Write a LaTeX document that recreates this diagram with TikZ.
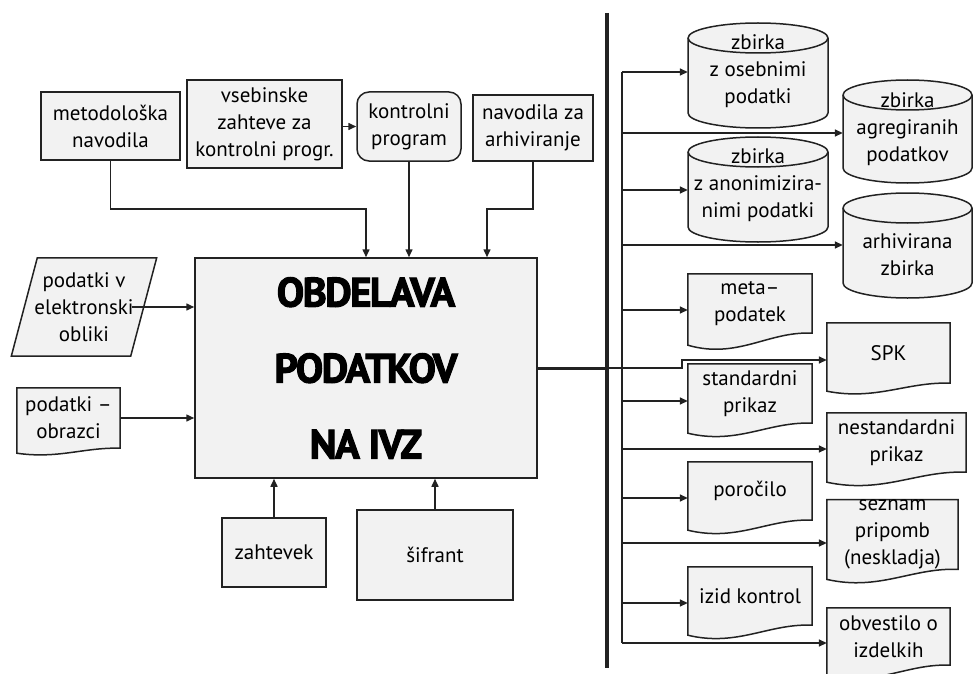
\documentclass[tikz,border=0pt]{standalone}
\usepackage{fontspec}
\setmainfont{PT Sans}
\newfontfamily\heavyfont[LetterSpace=-4,FakeBold=2.5]{PT Sans}
\usetikzlibrary{arrows.meta,calc,backgrounds}
\definecolor{boxfill}{HTML}{F2F2F2}
\definecolor{ink}{HTML}{222222}
\tikzset{
  txt/.style={font=\fontsize{21}{27}\selectfont, align=center, text=black, inner sep=0pt},
  ghost/.style={txt, rectangle, draw=none},
  box/.style={txt, rectangle, draw=ink, fill=boxfill, line width=1.5pt},
  outl/.style={draw=ink, fill=boxfill, line width=1.5pt},
  conn/.style={draw=ink, line width=1.5pt},
  arr/.style={conn, -{Triangle[length=8pt,width=7pt]}},
}
\newcommand\docoutline[2]{%
  \path[outl] (#1.south east) -- (#1.north east) -- (#1.north west) -- ($(#1.south west)+(0,-#2)$)
    .. controls ($(#1.south west)!0.4!(#1.south east)+(0,-2.2*#2)$) and ($(#1.south west)!0.65!(#1.south east)+(0,0.2*#2)$) .. (#1.south east) -- cycle;}
\newcommand\cylshape[4]{%
  \pgfmathsetmacro\crx{(#3-#1)/2}%
  \path[outl] (#1,-#2-15) -- (#1,-#4+15) arc[start angle=180,end angle=360,x radius=\crx pt,y radius=15pt]
    -- (#3,-#2-15) arc[start angle=0,end angle=180,x radius=\crx pt,y radius=15pt] -- cycle;
  \draw[conn] (#1,-#2-15) arc[start angle=180,end angle=360,x radius=\crx pt,y radius=15pt];}
\begin{document}
\begin{tikzpicture}[x=1pt,y=1pt]
\useasboundingbox (0,0) rectangle (974,-674);

% top inputs
\node[box, minimum width=139pt, minimum height=68pt] (metod) at (110.5,-126) {metodološka\\navodila};
\node[box, minimum width=155pt, minimum height=88pt] (vseb) at (264.5,-124) {vsebinske\\zahteve za\\kontrolni progr.};
\node[box, rounded corners=12pt, minimum width=104pt, minimum height=69pt] (kprog) at (409,-126.5) {kontrolni\\program};
\node[box, minimum width=120pt, minimum height=66pt] (navarh) at (533,-128) {navodila za\\arhiviranje};

% main
\node[box, minimum width=342pt, minimum height=220pt,
      font=\heavyfont\bfseries\fontsize{41}{76}\selectfont] (main) at (366,-368) {OBDELAVA\\PODATKOV\\NA IVZ};

% left inputs
\node[ghost, minimum width=119pt, minimum height=98pt] (elek) at (84,-307) {podatki v\\elektronski\\obliki};
\node[ghost, minimum width=103pt, minimum height=60pt] (obraz) at (68.5,-418) {podatki –\\obrazci};

% bottom inputs
\node[box, minimum width=104pt, minimum height=69pt] (zaht) at (274,-552.5) {zahtevek};
\node[box, minimum width=156pt, minimum height=90pt] (sifr) at (435,-555) {šifrant};

% cylinders (text nodes)
\node[txt, minimum width=140pt] (cyl1) at (758,-71) {zbirka\\z osebnimi\\podatki};
\node[txt, minimum width=129pt] (cyl2) at (907.5,-129) {zbirka\\agregiranih\\podatkov};
\node[txt, minimum width=140pt] (cyl3) at (758,-185) {zbirka\\z anonimizira-\\nimi podatki};
\node[txt, minimum width=129pt] (cyl4) at (907.5,-255) {arhivirana\\zbirka};

% documents
\node[ghost, minimum width=124pt, minimum height=59pt] (meta) at (750,-303.5) {meta–\\podatek};
\node[ghost, minimum width=123pt, minimum height=60pt] (spk) at (888.5,-353) {SPK};
\node[ghost, minimum width=124pt, minimum height=59pt] (std) at (750,-393.5) {standardni\\prikaz};
\node[ghost, minimum width=139pt, minimum height=59pt] (nestd) at (896.5,-442.5) {nestandardni\\prikaz};
\node[ghost, minimum width=124pt, minimum height=58pt] (poroc) at (750,-491) {poročilo};
\node[ghost, minimum width=131pt, minimum height=65pt] (sezn) at (892.5,-534.5) {seznam\\pripomb\\(neskladja)};
\node[ghost, minimum width=124pt, minimum height=58pt] (izid) at (750,-596) {izid kontrol};
\node[ghost, minimum width=123pt, minimum height=57pt] (obv) at (888.5,-636.5) {obvestilo o\\izdelkih};

\begin{pgfonlayer}{background}
  \path[outl] ($(elek.north west)+(13,0)$) -- ($(elek.north east)+(13,0)$)
     -- ($(elek.south east)+(-13,0)$) -- ($(elek.south west)+(-13,0)$) -- cycle;
  \docoutline{obraz}{5}
  \cylshape{688}{23}{828}{128}
  \cylshape{843}{80}{972}{183}
  \cylshape{688}{137}{828}{242}
  \cylshape{843}{193}{972}{298}
  \docoutline{meta}{12}
  \docoutline{spk}{8}
  \docoutline{std}{10}
  \docoutline{nestd}{10}
  \docoutline{poroc}{10}
  \docoutline{sezn}{10}
  \docoutline{izid}{10}
  \docoutline{obv}{10}
\end{pgfonlayer}

% connectors top
\draw[arr] (kprog.west -| vseb.east) -- (kprog.west);
\coordinate (j1) at (366,-209);
\coordinate (j3) at (487,-209);
\draw[arr] (metod.south) |- (j1) -- (j1 |- main.north);
\draw[arr] (kprog.south) -- (kprog.south |- main.north);
\draw[arr] (navarh.south) |- (j3) -- (j3 |- main.north);

% connectors left / bottom
\draw[arr] ($(elek.east)+(-12,0)$) -- (elek.east -| main.west);
\draw[arr] (obraz.east) -- (obraz.east -| main.west);
\draw[arr] (zaht.north) -- (zaht.north |- main.south);
\draw[arr] (sifr.north) -- (sifr.north |- main.south);

% output bus
\coordinate (bust) at (607,-13);
\coordinate (busb) at (607,-668);
\draw[ink, line width=4pt] (bust) -- (busb);
\draw[ink, line width=3pt] (main.east) -- (main.east -| bust);
\coordinate (brt) at (622,-72);
\coordinate (brb) at (622,-643);
\draw[conn] (brt) -- (brb);
\coordinate (k1) at (682,-360);
\draw[arr] (main.east -| bust) -- (main.east -| k1) -- (k1) -- (k1 -| spk.west);
\foreach \yy/\nn in {72/cyl1,133/cyl2,190/cyl3,245/cyl4,310/meta,401/std,449/nestd,498/poroc,543/sezn,603/izid,643/obv}{
  \coordinate (br\nn) at (622,-\yy);
  \draw[arr] (br\nn) -- (br\nn -| \nn.west);
}
\end{tikzpicture}
\end{document}
